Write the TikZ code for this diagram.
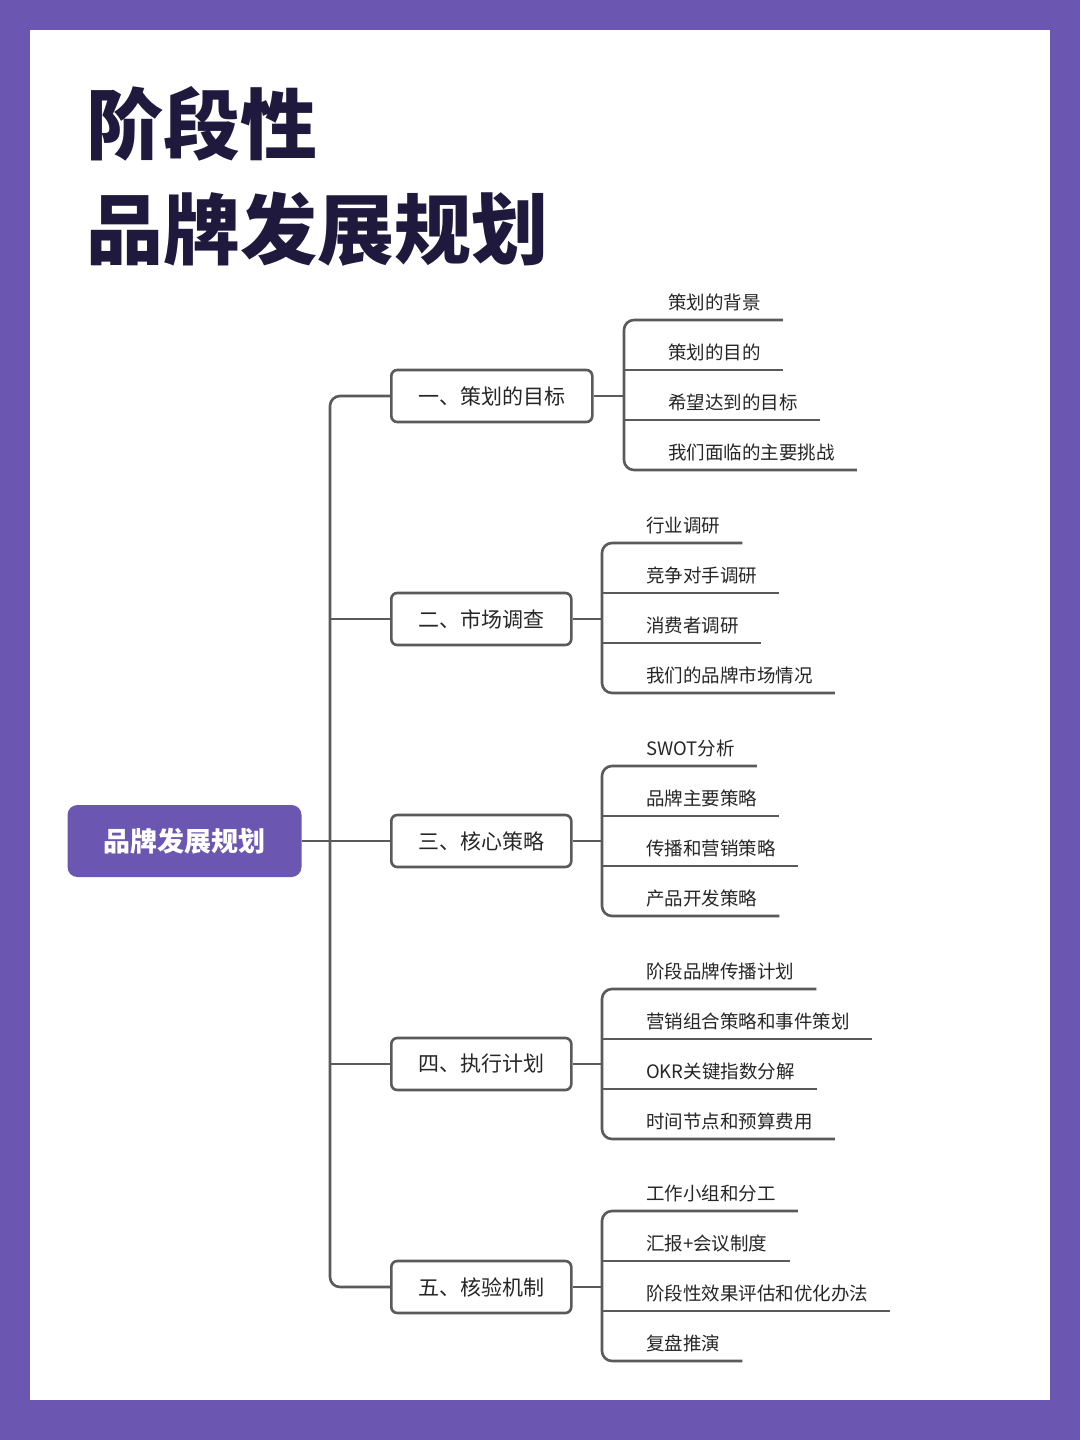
\documentclass[tikz,border=0pt]{standalone}
\usepackage{fontspec}
\setmainfont{Noto Sans CJK SC}
\definecolor{framepurple}{HTML}{6B56B2}
\definecolor{titleink}{HTML}{1F1A3D}
\definecolor{lineink}{HTML}{5A5A5A}
\tikzset{
  conn/.style={draw=lineink, line width=2.6pt},
  branch/.style={draw=lineink, line width=2.6pt, rounded corners=6pt, fill=white,
    minimum height=52pt, inner xsep=27pt, font=\fontsize{21}{21}\selectfont, text=black!85},
  leaf/.style={anchor=south west, inner xsep=0pt, inner ysep=9pt,
    font=\fontsize{18.5}{18.5}\selectfont, text=black!85},
}
\begin{document}
\begin{tikzpicture}[x=1pt, y=-1pt]
% frame
\fill[framepurple] (0,0) rectangle (1080,1440);
\fill[white] (30,30) rectangle (1050,1400);
% title
\node[anchor=base west, inner sep=0pt, text=titleink, font=\fontsize{77}{77}\selectfont\bfseries] (title1) at (86,153) {阶段性};
\node[anchor=base west, inner sep=0pt, text=titleink, font=\fontsize{77}{77}\selectfont\bfseries] (title2) at (86,258) {品牌发展规划};
% root
\node[fill=framepurple, rounded corners=10pt, minimum width=234pt, minimum height=72pt,
  text=white, font=\fontsize{27}{27}\selectfont\bfseries] (root) at (184.5,841) {品牌发展规划};
% branches
\node[branch, anchor=west] (b1) at (390,396) {一、策划的目标};
\node[branch, anchor=west] (b2) at (390,619) {二、市场调查};
\node[branch, anchor=west] (b3) at (390,841) {三、核心策略};
\node[branch, anchor=west] (b4) at (390,1064) {四、执行计划};
\node[branch, anchor=west] (b5) at (390,1287) {五、核验机制};
% trunk
\draw[conn] (root.east) -- (330,841);
\draw[conn, rounded corners=10pt] (b1.west) -- (330,396) -- (330,1287) -- (b5.west);
\draw[conn] (330,619) -- (b2.west);
\draw[conn] (330,841) -- (b3.west);
\draw[conn] (330,1064) -- (b4.west);
% leaves
\foreach \g/\bx/\ty/\la/\lb/\lc/\ld in {
  1/624/320/策划的背景/策划的目的/希望达到的目标/我们面临的主要挑战,
  2/602/543/行业调研/竞争对手调研/消费者调研/我们的品牌市场情况,
  3/602/766/SWOT分析/品牌主要策略/传播和营销策略/产品开发策略,
  4/602/989/阶段品牌传播计划/营销组合策略和事件策划/OKR关键指数分解/时间节点和预算费用,
  5/602/1211/工作小组和分工/汇报+会议制度/阶段性效果评估和优化办法/复盘推演}{
  \node[leaf] (l\g-1) at (\bx+44,\ty) {\la};
  \node[leaf] (l\g-2) at (\bx+44,\ty+50) {\lb};
  \node[leaf] (l\g-3) at (\bx+44,\ty+100) {\lc};
  \node[leaf] (l\g-4) at (\bx+44,\ty+150) {\ld};
  \draw[conn, rounded corners=10pt] ([xshift=22pt]l\g-1.south east) -- (\bx,\ty) -- (\bx,\ty+150) -- ([xshift=22pt]l\g-4.south east);
  \draw[conn] (\bx,\ty+50) -- ([xshift=22pt]l\g-2.south east);
  \draw[conn] (\bx,\ty+100) -- ([xshift=22pt]l\g-3.south east);
  \draw[conn] (b\g.east) -- (b\g.east -| \bx,0);
}
\end{tikzpicture}
\end{document}
